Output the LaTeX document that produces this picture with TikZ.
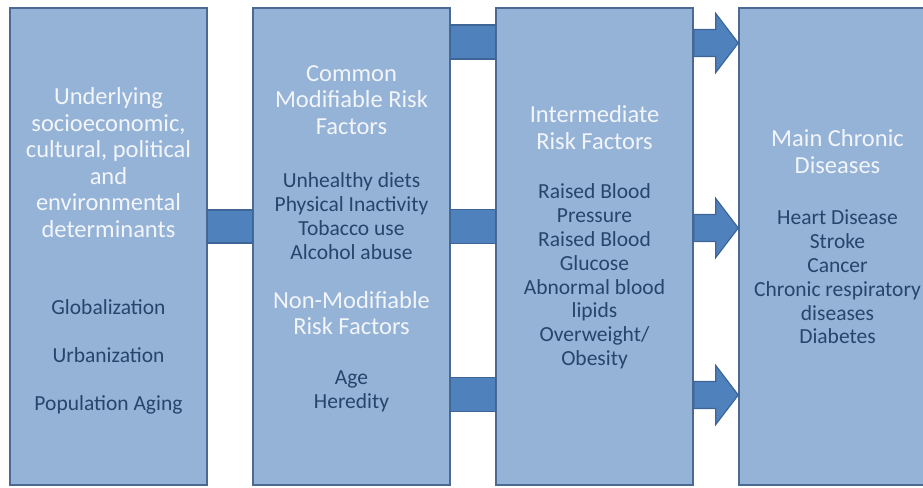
\documentclass[tikz,border=0pt]{standalone}
\usepackage{fontspec}
\setmainfont{Carlito}
\usepackage{tikz}
\usetikzlibrary{calc}
\definecolor{boxfill}{HTML}{95B3D7}
\definecolor{boxline}{HTML}{4A6A94}
\definecolor{barfill}{HTML}{4F81BD}
\definecolor{barline}{HTML}{3D6696}
\definecolor{headcol}{HTML}{F2F5FA}
\definecolor{listcol}{HTML}{27446B}
\tikzset{
  riskbox/.style={draw=boxline, fill=boxfill, line width=1.5pt, minimum width=197pt, minimum height=477pt, inner sep=0pt},
  headtext/.style={align=center, text=headcol, font=\fontsize{24.5}{26.5}\selectfont, inner sep=0pt},
  listtext/.style={align=center, text=listcol, font=\fontsize{21.5}{23.8}\selectfont, inner sep=0pt},
  linkbar/.style={draw=barline, line width=1.2pt, fill=barfill},
}

\begin{document}
\begin{tikzpicture}[x=1pt, y=-1pt]
    \useasboundingbox (0,0) rectangle (923,487);
    \clip (0,0) rectangle (923,487);
    % the four columns
    \node[riskbox] (under) at (108.5,246.5) {};
    \node[riskbox] (common) at (351.5,246.5) {};
    \node[riskbox] (inter) at (594.5,246.5) {};
    \node[riskbox] (main) at (837.5,246.5) {};
    % links
    \filldraw[linkbar] ($(under.east |- 0,226.5)+(0,-16.5)$) rectangle ($(common.west |- 0,226.5)+(0,16.5)$);
    \foreach \y in {42,226.5,394.5}
      \filldraw[linkbar] ($(common.east |- 0,\y)+(0,-17)$) rectangle ($(inter.west |- 0,\y)+(0,17)$);
    \foreach \y in {43,228,395}
      \filldraw[linkbar] ($(inter.east |- 0,\y)+(0,-13.5)$) -- ++(22,0) -- ++(0,-16)
        -- (main.west |- 0,\y) -- ($(inter.east |- 0,\y)+(22,29.5)$) -- ++(0,-16) -- ++(-22,0) -- cycle;
    % texts
    \node[headtext] (underhead) at (108.5,162.5) {Underlying\\socioeconomic,\\cultural, political\\and\\environmental\\determinants};
    \node[listtext] (underlist) at (108.5,357) {Globalization\\[24.2pt]Urbanization\\[24.2pt]Population Aging};
    \node[headtext] (commonhead) at (351.5,100) {Common\\Modifiable Risk\\Factors};
    \node[listtext] (commonlist) at (351.5,216) {Unhealthy diets\\Physical Inactivity\\Tobacco use\\Alcohol abuse};
    \node[headtext] (fixedhead) at (351.5,313) {Non-Modifiable\\Risk Factors};
    \node[listtext] (fixedlist) at (351.5,391.5) {Age\\Heredity};
    \node[headtext] (interhead) at (594.5,127.5) {Intermediate\\Risk Factors};
    \node[listtext] (interlist) at (594.5,276.5) {Raised Blood\\Pressure\\Raised Blood\\Glucose\\Abnormal blood\\lipids\\Overweight/\\Obesity};
    \node[headtext] (mainhead) at (837.5,151.5) {Main Chronic\\Diseases};
    \node[listtext] (mainlist) at (837.5,277) {Heart Disease\\Stroke\\Cancer\\Chronic respiratory\\diseases\\Diabetes};
\end{tikzpicture}
\end{document}
